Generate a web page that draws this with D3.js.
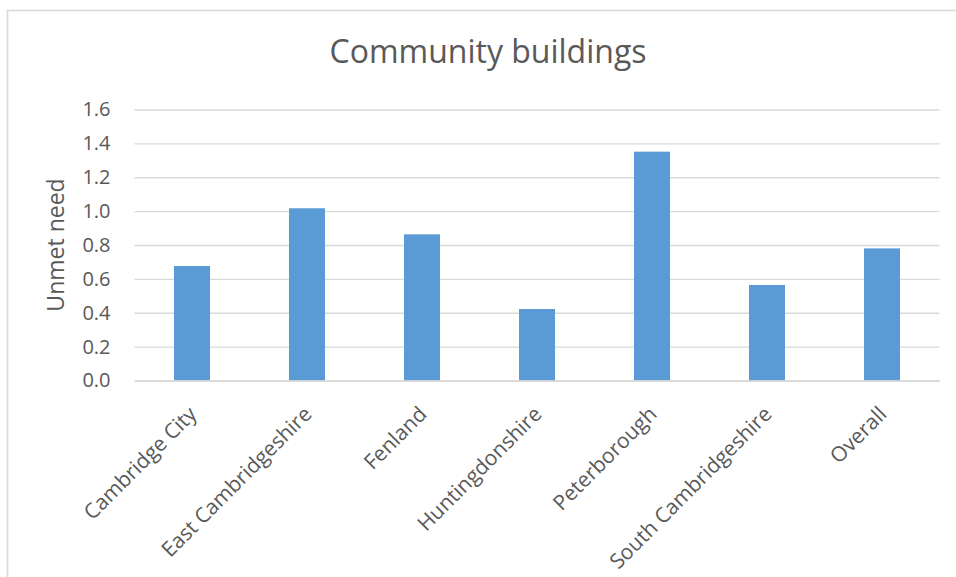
<!DOCTYPE html>
<html>
<head>
<meta charset="utf-8">
<script src="https://cdn.jsdelivr.net/npm/d3@7"></script>
<style>
  html, body { margin: 0; padding: 0; background: #ffffff; }
  svg { display: block; font-family: "Open Sans", "Noto Sans", sans-serif; }
</style>
</head>
<body>
<svg id="chart" width="956" height="577"></svg>
<script>
// Unmet need for community buildings by district
const categories = ["Cambridge City", "East Cambridgeshire", "Fenland", "Huntingdonshire",
                    "Peterborough", "South Cambridgeshire", "Overall"];
const unmetNeed = [0.676, 1.017, 0.863, 0.422, 1.351, 0.564, 0.780];
const yTicks = [0, 0.2, 0.4, 0.6, 0.8, 1.0, 1.2, 1.4, 1.6];
const chartTitle = "Community buildings";
const yAxisTitle = "Unmet need";

const svg = d3.select("#chart");
const textColor = "#595959";
const gridColor = "#d9d9d9";
const barColor = "#5b9bd5";

const plot = { left: 134.5, right: 939.5, top: 109.5, bottom: 380.5 };

// Chart frame
svg.append("rect")
  .attr("x", 7.5).attr("y", 10.5)
  .attr("width", 1200).attr("height", 1200)
  .attr("fill", "none")
  .attr("stroke", gridColor)
  .attr("stroke-width", 1.6);

const x = d3.scaleBand()
  .domain(categories)
  .range([plot.left, plot.right])
  .paddingInner(0.687)
  .paddingOuter(0.3435);

const y = d3.scaleLinear()
  .domain([0, 1.6])
  .range([plot.bottom, plot.top]);

// Horizontal gridlines with value labels
const yAxis = d3.axisLeft(y)
  .tickValues(yTicks)
  .tickFormat(d3.format(".1f"))
  .tickSize(-(plot.right - plot.left))
  .tickPadding(24);

const gy = svg.append("g")
  .attr("transform", `translate(${plot.left},0)`)
  .call(yAxis);
gy.select(".domain").remove();
gy.selectAll(".tick line")
  .attr("stroke", gridColor)
  .attr("stroke-width", 1.3);
gy.selectAll(".tick text")
  .attr("fill", textColor)
  .attr("font-size", 20)
  .attr("font-family", "'Open Sans', sans-serif");

// Bars
svg.append("g")
  .selectAll("rect")
  .data(categories)
  .join("rect")
  .attr("x", d => x(d))
  .attr("width", x.bandwidth())
  .attr("y", (d, i) => y(unmetNeed[i]))
  .attr("height", (d, i) => y(0) - y(unmetNeed[i]))
  .attr("fill", barColor);

// Category axis line and rotated labels
const xAxis = d3.axisBottom(x).tickSize(0).tickFormat(d => d);
const gx = svg.append("g")
  .attr("transform", `translate(0,${plot.bottom})`)
  .call(xAxis);
gx.select(".domain")
  .attr("stroke", gridColor)
  .attr("stroke-width", 1.3);
gx.selectAll(".tick text")
  .attr("fill", textColor)
  .attr("font-size", 21)
  .attr("font-family", "'Open Sans', sans-serif")
  .attr("text-anchor", "end")
  .attr("dy", null)
  .attr("y", 0)
  .attr("transform", "translate(6,35) rotate(-45)");

// Y axis title
svg.append("text")
  .attr("transform", `translate(64,${(plot.top + plot.bottom) / 2}) rotate(-90)`)
  .attr("text-anchor", "middle")
  .attr("fill", textColor)
  .attr("font-size", 23)
  .text(yAxisTitle);

// Chart title
svg.append("text")
  .attr("x", 488)
  .attr("y", 63)
  .attr("text-anchor", "middle")
  .attr("fill", textColor)
  .attr("font-size", 32)
  .text(chartTitle);
</script>
</body>
</html>
